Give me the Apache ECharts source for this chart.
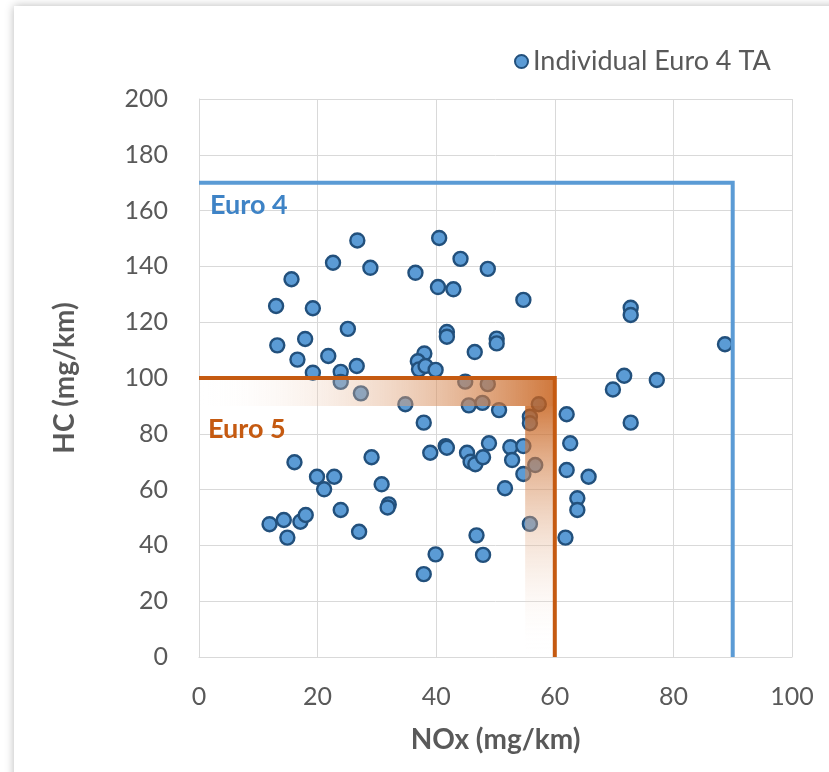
<!DOCTYPE html>
<html>
<head>
<meta charset="utf-8">
<script src="https://cdn.jsdelivr.net/npm/echarts@6/dist/echarts.min.js"></script>
<style>
    html, body { margin: 0; padding: 0; background: #fff; overflow: hidden; }
    #card {
        position: absolute; left: 14px; top: 6px; width: 900px; height: 900px;
        background: #fff; box-shadow: 0 0 9px rgba(0, 0, 0, 0.28);
    }
    #chart { position: absolute; left: 0; top: 0; width: 829px; height: 772px; }
</style>
</head>
<body>
<div id="card"></div>
<div id="chart"></div>
<script>
// 数据：单车 Euro 4 TA 排放点
const noxValues = [
    26.7, 22.6, 28.9, 36.5, 15.6, 13.0, 19.2, 25.1, 13.2, 17.9,
    16.6, 21.8, 26.6, 19.2, 23.9, 23.9, 27.3, 34.8, 40.5, 44.1,
    48.7, 40.3, 42.9, 54.7, 41.8, 41.8, 50.2, 50.2, 46.5, 38.0,
    36.9, 37.1, 38.2, 39.9, 44.9, 48.7, 45.5, 47.8, 50.6, 57.3,
    55.8, 55.8, 62.0, 69.8, 37.9, 39.0, 41.6, 41.8, 45.2, 45.8,
    46.6, 47.9, 48.9, 52.5, 52.8, 54.7, 56.7, 54.7, 51.6, 55.8,
    62.6, 62.0, 65.7, 63.8, 63.8, 61.8, 46.8, 39.9, 47.9, 37.9,
    16.1, 19.9, 22.8, 21.1, 29.1, 30.8, 32.0, 31.8, 23.9, 27.0,
    11.9, 14.3, 14.9, 17.1, 18.0, 72.8, 72.8, 88.7, 71.7, 77.2,
    72.8
];
const hcValues = [
    149.3, 141.3, 139.5, 137.7, 135.4, 125.8, 125.0, 117.6, 111.7, 114.0,
    106.6, 107.9, 104.3, 101.9, 102.2, 98.6, 94.5, 90.6, 150.2, 142.7,
    139.1, 132.6, 131.8, 128.0, 116.5, 114.8, 114.1, 112.4, 109.3, 108.8,
    106.0, 103.1, 104.3, 102.9, 98.7, 97.8, 90.2, 91.1, 88.5, 90.6,
    86.1, 83.8, 87.0, 95.9, 84.0, 73.2, 75.6, 75.0, 73.2, 70.0,
    69.1, 71.6, 76.6, 75.2, 70.6, 75.6, 68.8, 65.6, 60.5, 47.7,
    76.6, 67.0, 64.6, 56.9, 52.7, 42.8, 43.6, 36.8, 36.6, 29.7,
    69.8, 64.6, 64.6, 60.1, 71.6, 61.9, 54.7, 53.6, 52.7, 44.9,
    47.6, 49.1, 42.8, 48.5, 50.9, 125.2, 122.6, 112.1, 100.8, 99.3,
    84.0
];

// 限值折线
const euro4Limit = [[0, 170], [90, 170], [90, 0]];
const euro5Limit = [[0, 100], [60, 100], [60, 0]];
// 渐变带 [x0, y0, x1, y1, 方向]
const euro5Bands = [[0, 90, 60, 100, 'h'], [55, 0, 60, 90, 'v']];

const xTicks = [0, 20, 40, 60, 80, 100];
const yTicks = [0, 20, 40, 60, 80, 100, 120, 140, 160, 180, 200];

const FONT = 'Lato, "Open Sans", sans-serif';
const TEXT_GRAY = '#595959';
const GRID_GRAY = '#d9d9d9';
const BLUE = '#5b9bd5';
const ORANGE = '#c55a11';

const chart = echarts.init(document.getElementById('chart'), null, { renderer: 'canvas' });

const points = noxValues.map((x, i) => [x, hcValues[i]]);

chart.setOption({
    animation: false,
    backgroundColor: 'transparent',
    textStyle: { fontFamily: FONT },
    grid: { left: 199, right: 37, top: 99, bottom: 115 },
    legend: {
        left: 509, top: 43,
        icon: 'circle',
        itemWidth: 13, itemHeight: 13, itemGap: 10,
        data: ['Individual Euro 4 TA'],
        textStyle: { fontSize: 27, color: TEXT_GRAY, fontFamily: FONT }
    },
    xAxis: {
        type: 'value', min: xTicks[0], max: xTicks[xTicks.length - 1], interval: 20,
        name: 'NOx (mg/km)', nameLocation: 'middle', nameGap: 69,
        nameTextStyle: { fontSize: 28, fontWeight: 'bold', color: TEXT_GRAY, fontFamily: FONT },
        axisLine: { lineStyle: { color: GRID_GRAY, width: 1 } },
        axisTick: { show: false },
        axisLabel: { fontSize: 25, color: TEXT_GRAY, margin: 27 },
        splitLine: { lineStyle: { color: GRID_GRAY, width: 1 } }
    },
    yAxis: {
        type: 'value', min: yTicks[0], max: yTicks[yTicks.length - 1], interval: 20,
        name: 'HC (mg/km)', nameLocation: 'middle', nameGap: 120,
        nameTextStyle: { fontSize: 28, fontWeight: 'bold', color: TEXT_GRAY, fontFamily: FONT },
        axisLine: { show: true, lineStyle: { color: GRID_GRAY, width: 1 } },
        axisTick: { show: false },
        axisLabel: { fontSize: 25, color: TEXT_GRAY, margin: 31 },
        splitLine: { lineStyle: { color: GRID_GRAY, width: 1 } }
    },
    series: [
        {
            name: 'Individual Euro 4 TA',
            type: 'scatter',
            z: 2,
            symbol: 'circle',
            symbolSize: 14,
            itemStyle: { color: BLUE, borderColor: '#22507c', borderWidth: 2.4, opacity: 1 },
            data: points
        },
        {
            // Euro 5 渐变阴影，盖在散点上面
            type: 'custom',
            z: 3,
            silent: true,
            renderItem: function (params, api) {
                const p0 = api.coord([api.value(0), api.value(3)]);
                const p1 = api.coord([api.value(2), api.value(1)]);
                const horiz = euro5Bands[params.dataIndex][4] === 'h';
                const grad = horiz
                    ? new echarts.graphic.LinearGradient(0, 0, 1, 0, [
                        { offset: 0, color: 'rgba(255,255,255,0)' },
                        { offset: 1, color: 'rgba(197,90,17,0.82)' }
                    ])
                    : new echarts.graphic.LinearGradient(0, 0, 0, 1, [
                        { offset: 0, color: 'rgba(197,90,17,0.78)' },
                        { offset: 1, color: 'rgba(255,255,255,0)' }
                    ]);
                return {
                    type: 'rect',
                    shape: { x: p0[0], y: p0[1], width: p1[0] - p0[0], height: p1[1] - p0[1] },
                    style: { fill: grad }
                };
            },
            data: euro5Bands.map(b => b.slice(0, 4))
        },
        {
            type: 'line',
            z: 4,
            silent: true,
            symbol: 'none',
            lineStyle: { color: BLUE, width: 4, join: 'miter' },
            data: euro4Limit
        },
        {
            type: 'line',
            z: 4,
            silent: true,
            symbol: 'none',
            lineStyle: { color: ORANGE, width: 4, join: 'miter' },
            data: euro5Limit
        }
    ],
    graphic: [
        {
            type: 'text', left: 210, top: 192, z: 10,
            style: { text: 'Euro 4', fontSize: 27, fontWeight: 'bold', fill: '#3e83c6', fontFamily: FONT }
        },
        {
            type: 'text', left: 208, top: 416, z: 10,
            style: { text: 'Euro 5', fontSize: 27, fontWeight: 'bold', fill: ORANGE, fontFamily: FONT }
        }
    ]
});
</script>
</body>
</html>
